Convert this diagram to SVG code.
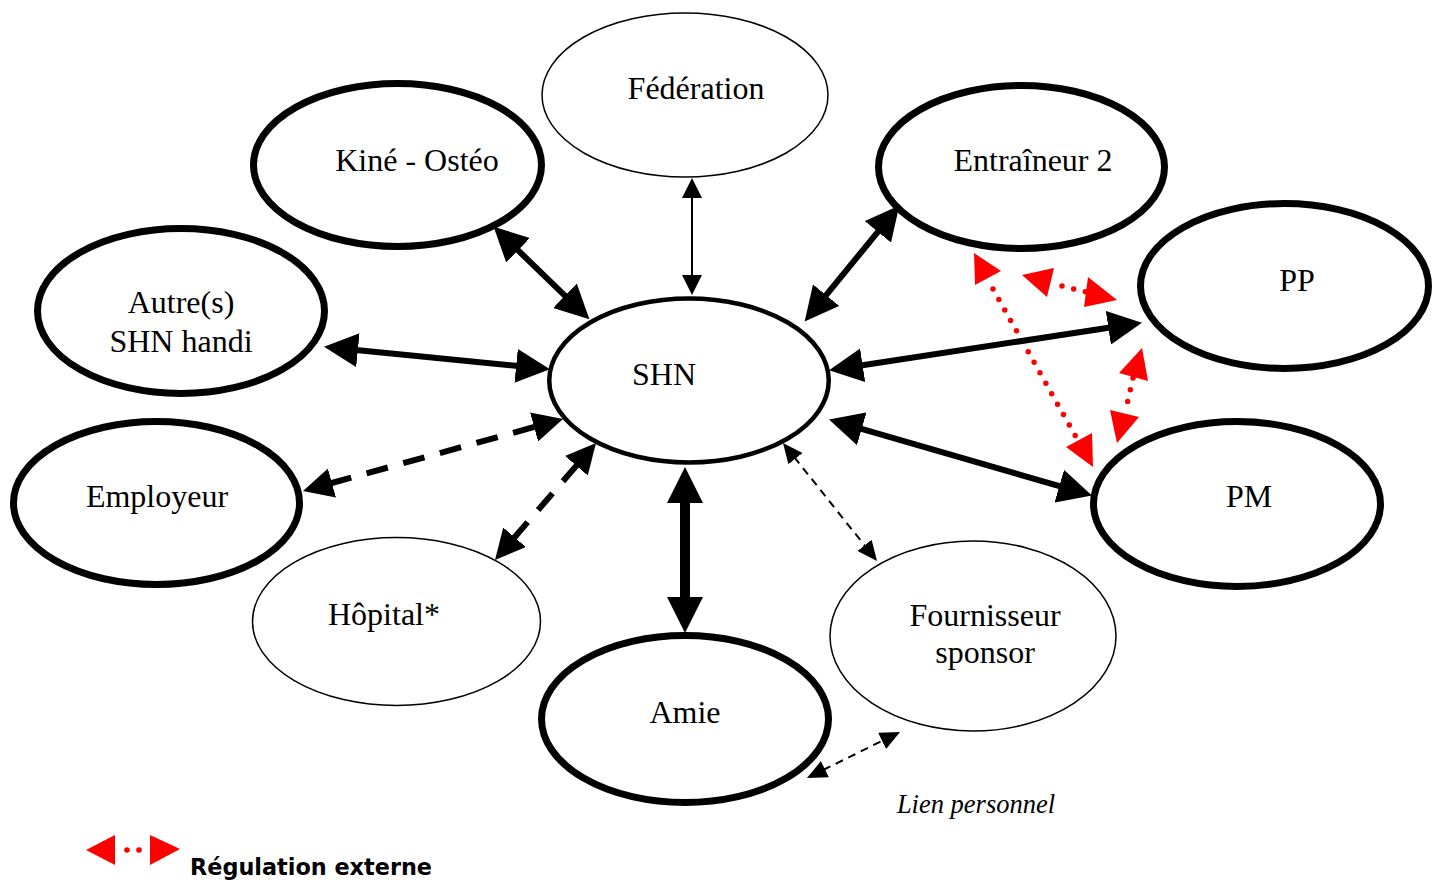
<svg xmlns="http://www.w3.org/2000/svg" width="1442" height="882" viewBox="0 0 1442 882">
<style>
.thick{fill:#fff;stroke:#000;stroke-width:7}
.mid{fill:#fff;stroke:#000;stroke-width:4.5}
.thin{fill:#fff;stroke:#000;stroke-width:1.5}
.lbl{font-family:"Liberation Serif","Times New Roman",serif;font-size:32px;fill:#000;text-anchor:middle}
.c6{stroke:#000;stroke-width:6;fill:none;marker-start:url(#hb);marker-end:url(#hb)}
.d6{stroke:#000;stroke-width:6;fill:none;stroke-dasharray:22 16;marker-start:url(#hd);marker-end:url(#hd)}
.t2{stroke:#000;stroke-width:2;fill:none;marker-start:url(#ht);marker-end:url(#ht)}
.td{stroke:#000;stroke-width:2;fill:none;stroke-dasharray:8 6;marker-start:url(#ht2);marker-end:url(#ht2)}
.c10{stroke:#000;stroke-width:10;fill:none;marker-start:url(#hx);marker-end:url(#hx)}
.rd{stroke:#f00;stroke-width:5.5;fill:none;stroke-linecap:round;stroke-dasharray:0 12}
.rh{fill:#f00}
</style>
<defs>
<marker id="hb" markerUnits="userSpaceOnUse" markerWidth="34" markerHeight="34" viewBox="0 0 34 34" refX="2" refY="17" orient="auto-start-reverse"><path d="M0,0 L34,17 L0,34 z" fill="#000"/></marker>
<marker id="hd" markerUnits="userSpaceOnUse" markerWidth="30" markerHeight="30" viewBox="0 0 30 30" refX="2" refY="15" orient="auto-start-reverse"><path d="M0,0 L30,15 L0,30 z" fill="#000"/></marker>
<marker id="ht" markerUnits="userSpaceOnUse" markerWidth="20" markerHeight="20" viewBox="0 0 20 20" refX="2" refY="10" orient="auto-start-reverse"><path d="M0,0 L20,10 L0,20 z" fill="#000"/></marker>
<marker id="ht2" markerUnits="userSpaceOnUse" markerWidth="20" markerHeight="18" viewBox="0 0 20 18" refX="2" refY="9" orient="auto-start-reverse"><path d="M0,0 L20,9 L0,18 z" fill="#000"/></marker>
<marker id="hx" markerUnits="userSpaceOnUse" markerWidth="36" markerHeight="36" viewBox="0 0 36 36" refX="2" refY="18" orient="auto-start-reverse"><path d="M0,0 L36,18 L0,36 z" fill="#000"/></marker>
</defs>
<rect width="1442" height="882" fill="#fff"/>

<g id="federation"><ellipse class="thin" cx="685" cy="95" rx="143" ry="82"/><text class="lbl" x="696" y="99">Fédération</text></g>
<g id="kine"><ellipse class="thick" cx="397.5" cy="165" rx="144" ry="81.5"/><text class="lbl" x="417" y="171">Kiné - Ostéo</text></g>
<g id="entraineur2"><ellipse class="thick" cx="1021.5" cy="167" rx="143" ry="81.5"/><text class="lbl" x="1033" y="171">Entraîneur 2</text></g>
<g id="pp"><ellipse class="thick" cx="1284.5" cy="286" rx="144" ry="82.5"/><text class="lbl" x="1297" y="291">PP</text></g>
<g id="autres"><ellipse class="thick" cx="181" cy="311" rx="143.5" ry="82.5"/><text class="lbl" x="181" y="313">Autre(s)</text><text class="lbl" x="181" y="352">SHN handi</text></g>
<g id="shn"><ellipse class="mid" cx="689" cy="380.5" rx="139.75" ry="82"/><text class="lbl" x="664" y="385">SHN</text></g>
<g id="employeur"><ellipse class="thick" cx="156.5" cy="503" rx="143" ry="81.5"/><text class="lbl" x="157" y="507">Employeur</text></g>
<g id="pm"><ellipse class="thick" cx="1237" cy="504" rx="143.5" ry="82.5"/><text class="lbl" x="1249" y="507">PM</text></g>
<g id="hopital"><ellipse class="thin" cx="396.5" cy="621.5" rx="144" ry="84"/><text class="lbl" x="384" y="625">Hôpital*</text></g>
<g id="amie"><ellipse class="thick" cx="685" cy="719" rx="143.5" ry="83.5"/><text class="lbl" x="685" y="723">Amie</text></g>
<g id="fournisseur"><ellipse class="thin" cx="973" cy="636" rx="143" ry="95"/><text class="lbl" x="985" y="626">Fournisseur</text><text class="lbl" x="985" y="663">sponsor</text></g>

<g id="regulation">
<line class="rd" x1="993" y1="289" x2="1076" y2="437"/>
<polygon class="rh" points="974,253 975,285 1001,271"/>
<polygon class="rh" points="1066,447 1092,433 1093,467"/>
<line class="rd" x1="1062" y1="286" x2="1086" y2="292"/>
<polygon class="rh" points="1022,275 1054,268 1047,297"/>
<polygon class="rh" points="1088,277 1117,300 1084,307"/>
<line class="rd" x1="1133" y1="378" x2="1125" y2="413"/>
<polygon class="rh" points="1142,348 1148,381 1119,373"/>
<polygon class="rh" points="1110,410 1139,417 1117,443"/>
</g>

<g id="connectors">
<line class="t2" x1="692" y1="196" x2="692" y2="277"/>
<line class="c6" x1="516.6" y1="248.9" x2="566.4" y2="297.1"/>
<line class="c6" x1="355.9" y1="350" x2="518.1" y2="366"/>
<line class="c6" x1="879.1" y1="230.3" x2="824.9" y2="296.7"/>
<line class="c6" x1="860.7" y1="365.5" x2="1110.3" y2="327.5"/>
<line class="c6" x1="859.8" y1="428.3" x2="1061.2" y2="486.7"/>
<line class="d6" x1="330" y1="483.5" x2="536" y2="426.5"/>
<line class="d6" x1="513.3" y1="538.8" x2="577.7" y2="464.2"/>
<line class="c10" x1="685" y1="501" x2="685" y2="599"/>
<line class="td" x1="794.2" y1="457.1" x2="865.8" y2="546.9"/>
<line class="td" x1="823.1" y1="770" x2="883.9" y2="740"/>
</g>

<text x="976" y="813" font-family="Liberation Serif,Times New Roman,serif" font-style="italic" font-size="26.5" text-anchor="middle">Lien personnel</text>

<g id="legend">
<polygon class="rh" points="86,850 115,835 115,865"/>
<polygon class="rh" points="150,835 180,849 150,865"/>
<circle cx="127" cy="850" r="2.8" fill="#f00"/>
<circle cx="139" cy="850" r="2.8" fill="#f00"/>
<text x="190" y="875" font-family="DejaVu Sans,sans-serif" font-weight="bold" font-size="23" textLength="242" lengthAdjust="spacingAndGlyphs">Régulation externe</text>
</g>
</svg>
